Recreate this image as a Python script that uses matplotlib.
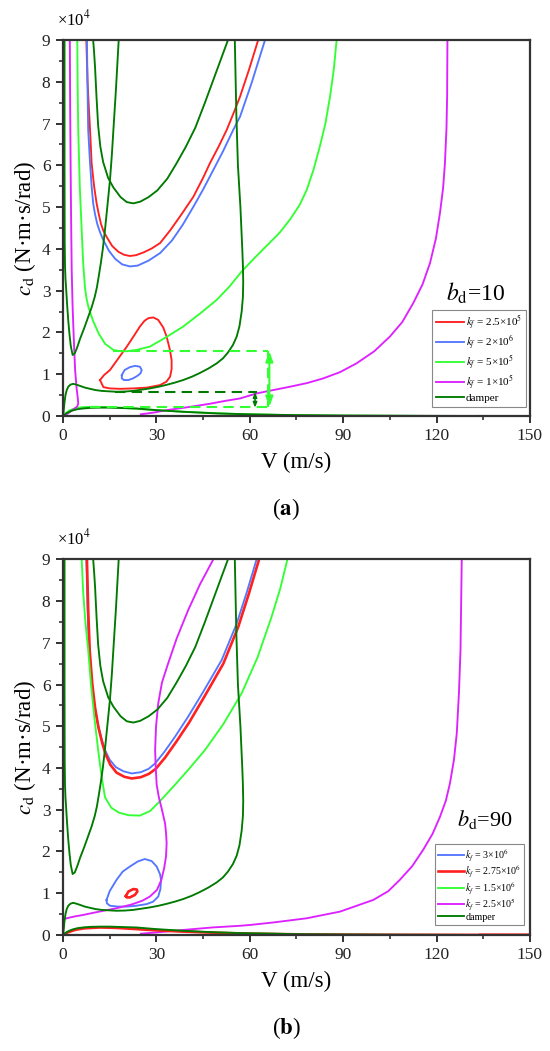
import matplotlib
matplotlib.use("Agg")
import matplotlib.pyplot as plt
from matplotlib.ticker import MultipleLocator

plt.rcParams['font.family'] = ['Liberation Serif', 'DejaVu Serif']
plt.rcParams['mathtext.fontset'] = 'stix'

# ---------------- colours ----------------
C_RED = '#ff2020'
C_BLUE = '#5577ff'
C_LIME = '#33ff33'
C_MAG = '#dd22ff'
C_DG = '#007a00'

# ---------------- damper curves (both panels), cd in 1e4 N·m·s/rad ----------------
damper_u_V = [9.7, 10.0, 10.3, 10.8, 11.3, 12.0, 12.9, 14.5, 16.2, 18.5, 20.5, 22.6, 24.8, 27.5, 30.3, 33.5, 36.5, 39.5, 42.5, 45.6, 49.3, 53.0]
damper_u_cd = [9.0, 8.7, 8.35, 7.6, 6.95, 6.45, 6.08, 5.7, 5.47, 5.24, 5.12, 5.09, 5.13, 5.24, 5.4, 5.68, 6.05, 6.45, 6.9, 7.5, 8.25, 9.0]

damper_v_V = [0.5, 0.5, 0.55, 0.65, 0.8, 1.0, 1.3, 1.7, 2.1, 2.5, 3.1, 3.8, 4.6, 5.5, 6.8, 8.0, 9.2, 10.2, 10.9, 11.5, 12.2, 12.8, 13.5, 14.3, 15.1, 15.7, 16.2, 17.0, 17.9]
damper_v_cd = [9.0, 6.0, 4.2, 3.6, 3.3, 3.07, 2.7, 2.28, 1.95, 1.68, 1.46, 1.5, 1.65, 1.85, 2.1, 2.35, 2.6, 2.85, 3.08, 3.35, 3.68, 4.0, 4.46, 5.05, 5.65, 6.25, 6.85, 7.8, 9.0]

damper_l_V = [0.0, 0.2, 0.45, 0.8, 1.2, 1.7, 2.4, 3.3, 4.3, 5.5, 7.0, 8.7, 10.5, 12.5, 14.8, 17.2, 19.8, 22.5, 25.2, 27.9, 30.7, 33.5, 36.0, 38.6, 41.4, 44.0, 46.8, 49.4, 51.4, 53.0, 54.6, 55.8, 56.7, 57.4, 57.8, 57.9, 57.8, 57.6, 57.3, 57.0, 56.6, 56.2, 55.7, 55.2]
damper_l_cd = [0.0, 0.1, 0.3, 0.5, 0.62, 0.7, 0.75, 0.77, 0.75, 0.72, 0.68, 0.65, 0.62, 0.6, 0.59, 0.58, 0.585, 0.6, 0.63, 0.66, 0.7, 0.75, 0.8, 0.86, 0.94, 1.03, 1.14, 1.26, 1.38, 1.52, 1.7, 1.9, 2.15, 2.5, 2.85, 3.2, 3.6, 4.0, 4.5, 5.0, 5.5, 6.0, 7.2, 9.0]

damper_b_V = [0.0, 0.5, 1.0, 2.0, 3.0, 4.5, 6.5, 9.0, 11.9, 15.0, 19.0, 23.6, 30.0, 38.6, 50.0, 60.0, 75.0, 90.0, 110.0, 134.0]
damper_b_cd = [0.0, 0.03, 0.06, 0.1, 0.13, 0.16, 0.18, 0.195, 0.2, 0.2, 0.19, 0.18, 0.14, 0.1, 0.06, 0.04, 0.02, 0.01, 0.005, 0.0]

# ---------------- panel (a): b_d = 10 ----------------
a_red_u_V = [7.5, 7.7, 7.9, 8.3, 8.7, 9.2, 10.0, 10.8, 11.5, 12.2, 13.0, 14.0, 15.8, 17.8, 19.6, 21.5, 23.5, 26.0, 28.5, 31.2, 34.5, 38.0, 41.9, 45.0, 47.2, 50.0, 52.6, 54.8, 56.9, 59.8, 62.7]
a_red_u_cd = [9.0, 8.5, 8.0, 7.4, 6.85, 6.05, 5.5, 5.09, 4.83, 4.6, 4.43, 4.29, 4.07, 3.93, 3.86, 3.83, 3.85, 3.92, 4.01, 4.14, 4.45, 4.82, 5.25, 5.7, 6.05, 6.45, 6.85, 7.25, 7.65, 8.3, 9.0]
a_red_loop_V = [11.9, 13.2, 15.1, 17.8, 20.5, 22.8, 24.7, 26.2, 27.4, 29.0, 30.6, 32.2, 33.3, 34.3, 34.9, 34.9, 34.4, 33.2, 31.2, 27.0, 22.6, 18.5, 15.1, 13.0, 11.9]
a_red_loop_cd = [0.86, 0.98, 1.10, 1.38, 1.66, 1.92, 2.14, 2.28, 2.34, 2.36, 2.30, 2.12, 1.90, 1.6, 1.34, 1.12, 0.94, 0.82, 0.74, 0.68, 0.66, 0.65, 0.66, 0.69, 0.86]
a_blue_u_V = [7.7, 7.8, 7.9, 8.1, 8.4, 8.7, 9.2, 9.7, 10.3, 11.0, 11.9, 12.9, 14.8, 16.8, 19.0, 21.5, 24.0, 27.5, 31.2, 35.0, 38.5, 41.9, 45.0, 48.3, 51.5, 54.7, 56.9, 60.5, 64.9]
a_blue_u_cd = [9.0, 8.4, 7.8, 6.85, 6.45, 6.05, 5.5, 5.09, 4.83, 4.6, 4.4, 4.22, 3.95, 3.76, 3.63, 3.58, 3.6, 3.72, 3.90, 4.2, 4.58, 5.01, 5.42, 5.89, 6.35, 6.85, 7.17, 7.95, 9.0]
a_blue_loop_V = [18.9, 19.8, 21.5, 23.2, 24.7, 25.3, 24.9, 23.9, 22.5, 21.0, 19.6, 18.9, 18.9]
a_blue_loop_cd = [0.98, 1.1, 1.17, 1.2, 1.18, 1.10, 1.02, 0.96, 0.9, 0.86, 0.86, 0.9, 0.98]
a_lime_u_V = [4.6, 4.7, 4.9, 5.4, 6.0, 6.5, 7.1, 7.6, 8.2, 9.7, 11.5, 13.5, 16.2, 18.5, 20.5, 23.5, 27.9, 33.0, 38.6, 44.0, 49.4, 53.5, 57.4, 61.5, 65.5, 69.5, 72.9, 76.0, 78.3, 80.5, 82.5, 84.3, 85.8, 87.0, 87.9]
a_lime_u_cd = [9.0, 8.0, 6.85, 5.5, 4.46, 3.65, 3.05, 2.8, 2.6, 2.27, 1.97, 1.73, 1.58, 1.55, 1.55, 1.58, 1.66, 1.88, 2.14, 2.45, 2.78, 3.1, 3.46, 3.78, 4.08, 4.38, 4.7, 5.05, 5.41, 5.9, 6.45, 7.0, 7.65, 8.3, 9.0]
a_lime_b_V = [0.0, 0.8, 2.0, 4.0, 7.0, 10.0, 14.0, 18.0, 24.0, 32.0, 42.0, 55.0, 70.0, 90.0, 120.0]
a_lime_b_cd = [0.0, 0.06, 0.13, 0.19, 0.215, 0.22, 0.215, 0.2, 0.17, 0.13, 0.09, 0.05, 0.025, 0.01, 0.0]
a_mag_l_V = [2.2, 2.3, 2.45, 2.6, 2.8, 3.1, 3.5, 3.9, 4.4, 4.8, 4.9, 4.6, 3.6, 2.3, 1.2, 0.4, 0.0]
a_mag_l_cd = [9.0, 7.5, 6.0, 4.8, 3.5, 2.6, 1.8, 1.1, 0.65, 0.4, 0.3, 0.23, 0.17, 0.1, 0.04, 0.01, 0.0]
a_mag_r_V = [25.0, 29.0, 33.3, 40.0, 47.0, 52.0, 56.9, 62.2, 67.5, 72.9, 78.5, 83.6, 89.0, 94.3, 100.0, 105.0, 109.0, 112.5, 115.5, 117.9, 119.8, 121.1, 122.1, 122.7, 123.2, 123.4, 123.5]
a_mag_r_cd = [0.04, 0.08, 0.14, 0.21, 0.29, 0.36, 0.42, 0.54, 0.62, 0.70, 0.79, 0.90, 1.05, 1.26, 1.55, 1.90, 2.25, 2.70, 3.15, 3.66, 4.25, 4.86, 5.45, 6.05, 6.9, 7.65, 9.0]
a_mag_tail_V = [133.0, 150.0]
a_mag_tail_cd = [0.002, 0.0]

# guide lines (panel a)
a_lime_hi = 1.55      # lime minimum level
a_lime_lo = 0.22      # lime bottom hump level
a_dg_hi = 0.57        # damper minimum level
a_dg_lo = 0.20        # damper bottom hump level
a_guide_V_lime_top = [16.2, 65.9]
a_guide_V_lime_bot = [8.7, 65.9]
a_guide_V_dg = [16.7, 62.2]
a_arrow_V_lime = 66.3
a_arrow_V_dg = 61.7

# ---------------- panel (b): b_d = 90 ----------------
b_blue_u_V = [7.5, 7.9, 8.4, 9.2, 10.1, 11.2, 12.4, 13.5, 15.0, 17.0, 19.5, 22.1, 25.0, 27.5, 29.6, 32.5, 36.0, 40.2, 45.0, 51.0, 55.8, 59.0, 62.2]
b_blue_u_cd = [9.0, 7.8, 6.8, 6.03, 5.5, 5.05, 4.7, 4.43, 4.2, 4.02, 3.92, 3.87, 3.9, 3.98, 4.11, 4.38, 4.75, 5.23, 5.82, 6.59, 7.46, 8.2, 9.0]
b_blue_loop_V = [14.0, 15.0, 17.2, 19.2, 21.5, 24.0, 26.3, 28.5, 30.1, 31.2, 31.5, 31.3, 30.6, 29.0, 26.9, 23.5, 20.5, 17.5, 15.1, 14.1, 14.0]
b_blue_loop_cd = [0.84, 1.05, 1.32, 1.52, 1.64, 1.76, 1.82, 1.77, 1.64, 1.45, 1.32, 1.1, 0.92, 0.8, 0.74, 0.7, 0.68, 0.68, 0.7, 0.76, 0.84]
b_red_u_V = [7.7, 8.1, 8.6, 9.4, 10.3, 11.4, 12.6, 13.7, 15.2, 17.2, 19.7, 22.1, 25.0, 27.6, 29.8, 32.8, 36.4, 40.6, 45.5, 51.5, 56.3, 59.6, 63.0]
b_red_u_cd = [9.0, 7.8, 6.8, 6.03, 5.45, 4.97, 4.6, 4.33, 4.08, 3.89, 3.79, 3.75, 3.78, 3.86, 3.98, 4.25, 4.63, 5.1, 5.72, 6.5, 7.38, 8.15, 9.0]
b_red_loop_V = [20.2, 21.0, 22.6, 23.7, 23.9, 23.1, 21.5, 20.5, 20.2]
b_red_loop_cd = [0.93, 1.04, 1.10, 1.09, 1.04, 0.96, 0.90, 0.90, 0.93]
b_red_b_V = [0.0, 0.5, 1.5, 3.0, 4.4, 7.0, 11.9, 17.0, 23.6, 30.0, 38.6, 50.0, 60.1, 79.3, 100.0, 150.0]
b_red_b_cd = [0.0, 0.02, 0.06, 0.1, 0.13, 0.16, 0.18, 0.17, 0.14, 0.11, 0.08, 0.05, 0.03, 0.012, 0.005, 0.0]
b_lime_u_V = [6.0, 6.5, 7.2, 8.1, 9.0, 10.1, 11.3, 12.4, 13.5, 15.5, 18.0, 21.0, 24.7, 28.0, 31.7, 36.0, 40.5, 45.6, 51.5, 57.4, 62.5, 67.0, 69.8, 72.1]
b_lime_u_cd = [9.0, 8.2, 7.5, 6.83, 6.0, 5.2, 4.43, 3.8, 3.3, 3.05, 2.93, 2.87, 2.86, 2.97, 3.25, 3.6, 3.98, 4.43, 5.05, 5.79, 6.65, 7.62, 8.3, 9.0]
b_lime_b_V = [0.0, 1.0, 3.0, 6.0, 10.0, 15.0, 22.0, 32.0, 45.0, 60.0, 80.0, 110.0]
b_lime_b_cd = [0.0, 0.05, 0.12, 0.17, 0.19, 0.185, 0.16, 0.12, 0.07, 0.04, 0.015, 0.0]
b_mag_l_V = [0.0, 0.3, 1.2, 3.5, 6.5, 11.0, 17.2, 22.0, 25.5, 27.9, 30.2, 31.6, 32.5, 33.1, 33.3, 33.1, 32.8, 31.8, 30.8, 30.1, 29.8, 29.6, 29.9, 30.6, 31.8, 33.8, 36.5, 40.2, 44.0, 48.3]
b_mag_l_cd = [0.37, 0.38, 0.40, 0.44, 0.48, 0.55, 0.64, 0.73, 0.82, 0.92, 1.08, 1.32, 1.6, 1.88, 2.2, 2.45, 2.67, 3.0, 3.3, 3.6, 4.0, 4.43, 5.0, 5.55, 6.05, 6.51, 7.1, 7.78, 8.4, 9.0]
b_mag_r_V = [25.0, 30.0, 38.6, 48.0, 56.9, 60.1, 67.6, 78.3, 89.0, 99.7, 104.5, 108.2, 112.2, 115.7, 118.7, 121.1, 123.0, 124.3, 125.6, 126.5, 127.2, 127.7, 128.1]
b_mag_r_cd = [0.03, 0.06, 0.12, 0.18, 0.22, 0.24, 0.30, 0.40, 0.56, 0.84, 1.05, 1.32, 1.65, 2.04, 2.42, 2.83, 3.22, 3.63, 4.2, 4.83, 5.8, 6.83, 9.0]
b_red_tail_V = [134.0, 150.0]
b_red_tail_cd = [0.002, 0.0]

# ---------------- axis/labels ----------------
x_ticks = [0, 30, 60, 90, 120, 150]
y_ticks = [0, 1, 2, 3, 4, 5, 6, 7, 8, 9]
legend_a = [r"$k_f$ = 2.5×10$^5$", r"$k_f$ = 2×10$^6$", r"$k_f$ = 5×10$^5$", r"$k_f$ = 1×10$^5$", "damper"]
legend_b = [r"$k_f$ = 3×10$^6$", r"$k_f$ = 2.75×10$^6$", r"$k_f$ = 1.5×10$^6$", r"$k_f$ = 2.5×10$^5$", "damper"]

LW = 1.35

fig = plt.figure(figsize=(5.5, 10.51), dpi=100)
axa = fig.add_axes([0.1145, 0.6042, 0.849, 0.3577])
axb = fig.add_axes([0.1145, 0.1104, 0.849, 0.3574])


def style_axes(ax, bd_text, bd_x, bd_y, bd_size):
    ax.set_xlim(0, 150)
    ax.set_ylim(0, 9)
    ax.set_xticks(x_ticks)
    ax.set_yticks(y_ticks)
    ax.xaxis.set_minor_locator(MultipleLocator(15))
    ax.yaxis.set_minor_locator(MultipleLocator(0.5))
    ax.tick_params(which='major', direction='out', length=5, width=1.3, labelsize=12.5,
                   top=False, right=False, pad=4, colors='#222222')
    ax.tick_params(which='minor', direction='out', length=3, width=1.1, top=False, right=False,
                   colors='#222222')
    for s in ax.spines.values():
        s.set_linewidth(1.6)
        s.set_color('#333333')
    ax.set_xlabel("V (m/s)", fontsize=16.5, labelpad=5)
    ax.set_ylabel(r"$c_\mathrm{d}$ (N·m·s/rad)", fontsize=16.5, labelpad=3)
    ax.text(-0.012, 1.055, r"×10$^4$", transform=ax.transAxes, fontsize=12,
            ha='left', va='center')
    ax.text(bd_x, bd_y, bd_text, transform=ax.transAxes, fontsize=bd_size,
            ha='right', va='baseline')


def draw_damper(ax):
    ax.plot(damper_u_V, damper_u_cd, color=C_DG, lw=LW, label='damper')
    ax.plot(damper_v_V, damper_v_cd, color=C_DG, lw=LW)
    ax.plot(damper_l_V, damper_l_cd, color=C_DG, lw=LW)
    ax.plot(damper_b_V, damper_b_cd, color=C_DG, lw=LW)


# ---- panel a ----
ax = axa
ax.plot(a_red_u_V, a_red_u_cd, color=C_RED, lw=LW, label=legend_a[0])
ax.plot(a_red_loop_V, a_red_loop_cd, color=C_RED, lw=LW)
ax.plot(a_blue_u_V, a_blue_u_cd, color=C_BLUE, lw=LW, label=legend_a[1])
ax.plot(a_blue_loop_V, a_blue_loop_cd, color=C_BLUE, lw=LW)
ax.plot(a_lime_u_V, a_lime_u_cd, color=C_LIME, lw=LW, label=legend_a[2])
ax.plot(a_lime_b_V, a_lime_b_cd, color=C_LIME, lw=LW)
ax.plot(a_mag_l_V, a_mag_l_cd, color=C_MAG, lw=LW, label=legend_a[3])
ax.plot(a_mag_r_V, a_mag_r_cd, color=C_MAG, lw=LW)
ax.plot(a_mag_tail_V, a_mag_tail_cd, color=C_MAG, lw=LW)
draw_damper(ax)

# guide lines
dash = (0, (5, 3))
ax.plot(a_guide_V_lime_top, [a_lime_hi, a_lime_hi], color=C_LIME, lw=1.5, linestyle=dash)
ax.plot(a_guide_V_lime_bot, [a_lime_lo, a_lime_lo], color=C_LIME, lw=1.5, linestyle=dash)
ax.plot([a_guide_V_lime_top[1], a_guide_V_lime_top[1]], [a_lime_hi, a_lime_lo], color=C_LIME,
        lw=1.5, linestyle=dash)
ax.plot(a_guide_V_dg, [a_dg_hi, a_dg_hi], color=C_DG, lw=1.5, linestyle=dash)
ax.annotate('', xy=(a_arrow_V_lime, a_lime_hi), xytext=(a_arrow_V_lime, a_lime_lo),
            arrowprops=dict(arrowstyle='<|-|>,head_length=0.6,head_width=0.22', color=C_LIME,
                            lw=1.5, shrinkA=0, shrinkB=0))
ax.annotate('', xy=(a_arrow_V_dg, a_dg_hi), xytext=(a_arrow_V_dg, a_dg_lo),
            arrowprops=dict(arrowstyle='<|-|>,head_length=0.3,head_width=0.12', color=C_DG,
                            lw=1.1, shrinkA=0, shrinkB=0))

style_axes(ax, r"$b_\mathrm{d}$=10", 0.946, 0.306, 17)
leg = ax.legend(loc='lower right', bbox_to_anchor=(0.991, 0.025), borderaxespad=0,
                fontsize=8.0, frameon=True, fancybox=False, edgecolor='#888888',
                handlelength=2.6, handletextpad=0.15, labelspacing=0.1, borderpad=0.3,
                framealpha=1)
leg.get_frame().set_linewidth(0.8)

# ---- panel b ----
ax = axb
ax.plot(b_blue_u_V, b_blue_u_cd, color=C_BLUE, lw=LW, label=legend_b[0])
ax.plot(b_blue_loop_V, b_blue_loop_cd, color=C_BLUE, lw=LW)
ax.plot(b_red_u_V, b_red_u_cd, color=C_RED, lw=1.9, label=legend_b[1])
ax.plot(b_red_loop_V, b_red_loop_cd, color=C_RED, lw=1.9)
ax.plot(b_lime_u_V, b_lime_u_cd, color=C_LIME, lw=LW, label=legend_b[2])
ax.plot(b_lime_b_V, b_lime_b_cd, color=C_LIME, lw=LW)
ax.plot(b_mag_l_V, b_mag_l_cd, color=C_MAG, lw=LW, label=legend_b[3])
ax.plot(b_mag_r_V, b_mag_r_cd, color=C_MAG, lw=LW)
ax.plot(b_red_b_V, b_red_b_cd, color=C_RED, lw=1.9)
ax.plot(b_red_tail_V, b_red_tail_cd, color=C_RED, lw=1.9)
draw_damper(ax)

style_axes(ax, r"$b_\mathrm{d}$=90", 0.964, 0.29, 16)
leg = ax.legend(loc='lower right', bbox_to_anchor=(0.988, 0.027), borderaxespad=0,
                fontsize=7.2, frameon=True, fancybox=False, edgecolor='#888888',
                handlelength=2.6, handletextpad=0.1, labelspacing=0.08, borderpad=0.3,
                framealpha=1)
leg.get_frame().set_linewidth(0.8)

fig.text(0.52, 0.516, r"($\mathbf{a}$)", ha='center', va='center', fontsize=16.5)
fig.text(0.52, 0.022, r"($\mathbf{b}$)", ha='center', va='center', fontsize=16.5)

fig.savefig("out.png", dpi=100)
